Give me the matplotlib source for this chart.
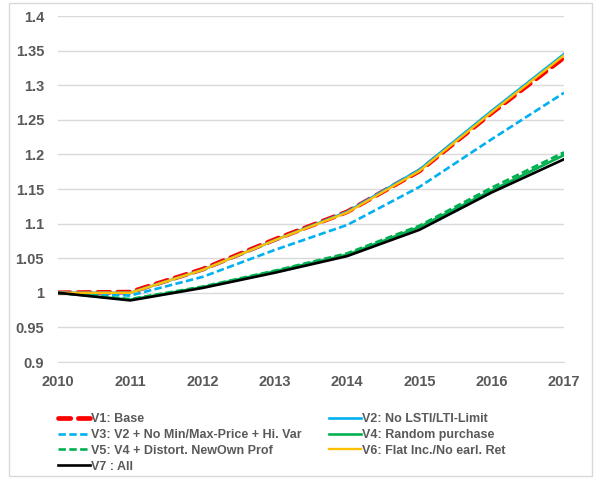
import matplotlib.pyplot as plt
from matplotlib.patches import Rectangle
from matplotlib.ticker import FuncFormatter

plt.rcParams['font.family'] = ['Liberation Sans', 'DejaVu Sans']

years = [2010, 2011, 2012, 2013, 2014, 2015, 2016, 2017]
v1 = [1.0, 1.001, 1.034, 1.077, 1.117, 1.176, 1.26, 1.34]
v2 = [1.0, 1.0, 1.033, 1.076, 1.117, 1.178, 1.263, 1.345]
v3 = [1.0, 0.996, 1.023, 1.062, 1.098, 1.153, 1.222, 1.289]
v4 = [1.0, 0.99, 1.008, 1.031, 1.055, 1.095, 1.148, 1.199]
v5 = [1.0, 0.991, 1.009, 1.032, 1.057, 1.097, 1.152, 1.203]
v6 = [1.0, 1.0, 1.033, 1.076, 1.116, 1.176, 1.261, 1.343]
v7 = [1.0, 0.989, 1.007, 1.029, 1.053, 1.091, 1.145, 1.193]

labels = ["V1: Base", "V2: No LSTI/LTI-Limit", "V3: V2 + No Min/Max-Price + Hi. Var",
          "V4: Random purchase", "V5: V4 + Distort. NewOwn Prof",
          "V6: Flat Inc./No earl. Ret", "V7 : All"]

grey = "#595959"
grid = "#D9D9D9"

fig = plt.figure(figsize=(5.96, 4.79), dpi=100)
# рамка вокруг всей диаграммы
fig.patches.append(Rectangle((9 / 596, 3 / 479), 583 / 596, 473 / 479,
                             transform=fig.transFigure, fill=False,
                             edgecolor=grid, linewidth=1))

ax = fig.add_axes([58 / 596, 1 - 362 / 479, 506 / 596, 346 / 479])

lines = []
l, = ax.plot(years, v1, color="#FF0000", lw=3.4, dashes=(2.6, 1.6),
             dash_capstyle="round")
lines.append(l)
l, = ax.plot(years, v2, color="#00B0F0", lw=1.9)
lines.append(l)
l, = ax.plot(years, v3, color="#00B0F0", lw=1.9, dashes=(2.8, 1.3))
lines.append(l)
l, = ax.plot(years, v4, color="#00B050", lw=1.9)
lines.append(l)
l, = ax.plot(years, v5, color="#00B050", lw=1.9, dashes=(2.8, 1.3))
lines.append(l)
l, = ax.plot(years, v6, color="#FFC000", lw=1.7)
lines.append(l)
l, = ax.plot(years, v7, color="#000000", lw=1.9)
lines.append(l)

ax.set_xlim(2010, 2017)
ax.set_ylim(0.9, 1.4)
ax.set_xticks(years)
ax.set_yticks([0.9 + 0.05 * i for i in range(11)])
ax.yaxis.set_major_formatter(FuncFormatter(lambda v, p: "%g" % round(v, 2)))
ax.grid(axis="y", color=grid, lw=1)
ax.set_axisbelow(True)
for s in ["top", "right", "left"]:
    ax.spines[s].set_visible(False)
ax.spines["bottom"].set_color(grid)
ax.tick_params(length=0, labelcolor=grey, labelsize=10.5)
ax.tick_params(axis="x", pad=9)
ax.tick_params(axis="y", pad=10)
for t in ax.get_xticklabels() + ax.get_yticklabels():
    t.set_fontweight("bold")

# легенда в две колонки, каждая колонка отдельно
leg_kw = dict(frameon=False, borderpad=0, handlelength=2.5, handletextpad=0.1,
              labelspacing=0.3, loc="upper left",
              prop={"weight": "bold", "size": 9})
left_idx = [0, 2, 4, 6]
right_idx = [1, 3, 5]
top = 1 - 407 / 479
lg1 = fig.legend([lines[i] for i in left_idx], [labels[i] for i in left_idx],
                 bbox_to_anchor=(52 / 596, top), **leg_kw)
lg2 = fig.legend([lines[i] for i in right_idx], [labels[i] for i in right_idx],
                 bbox_to_anchor=(323 / 596, top), **leg_kw)
for lg in (lg1, lg2):
    for t in lg.get_texts():
        t.set_color(grey)

fig.savefig("out.png", dpi=100)
